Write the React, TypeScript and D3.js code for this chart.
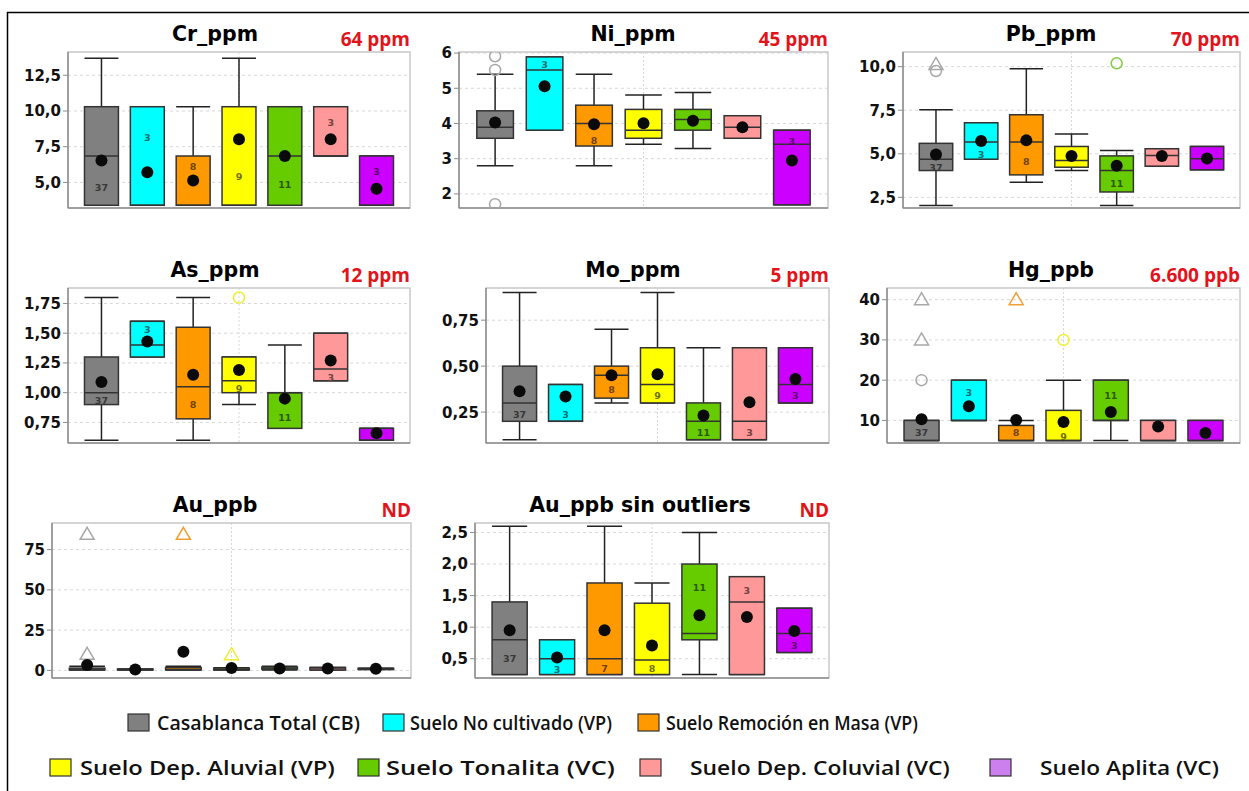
import React from "react";
import * as d3 from "d3";

// ---------- categories & colours ----------
const GROUPS = [
  "Casablanca Total (CB)",
  "Suelo No cultivado (VP)",
  "Suelo Remoción en Masa (VP)",
  "Suelo Dep. Aluvial (VP)",
  "Suelo Tonalita (VC)",
  "Suelo Dep. Coluvial (VC)",
  "Suelo Aplita (VC)",
];
const FILLS = ["#808080", "#00ffff", "#ff9900", "#ffff00", "#66cc00", "#ff9999", "#cc00ff"];
const LEGEND_FILLS = ["#808080", "#00ffff", "#ff9900", "#ffff00", "#66cc00", "#ff9999", "#cc80ee"];
const OUTLIER_COLORS = ["#a8a8a8", "#00cccc", "#f0a030", "#eeee30", "#80cc40", "#ff9999", "#cc66ff"];

// ---------- Cr_ppm ----------
const CR_LOW = [3.4, 3.4, 3.4, 3.4, 3.4, 6.85, 3.4];
const CR_Q1 = [3.4, 3.4, 3.4, 3.4, 3.4, 6.85, 3.4];
const CR_MED = [6.85, 3.4, 3.4, 3.4, 6.85, 6.85, 3.4];
const CR_Q3 = [10.3, 10.3, 6.85, 10.3, 10.3, 10.3, 6.85];
const CR_HIGH = [13.7, 10.3, 10.3, 13.7, 10.3, 10.3, 6.85];
const CR_MEAN = [6.53, 5.72, 5.14, 8.02, 6.85, 8.02, 4.56];
const CR_N = [37, 3, 8, 9, 11, 3, 3];
const CR_N_AT = [4.65, 8.13, 6.11, 5.37, 4.84, 9.2, 5.77];
const CR_OUT: [number, number, string][] = [];
const CR_TICKS = [5, 7.5, 10, 12.5];
const CR_TICK_LABELS = ["5,0", "7,5", "10,0", "12,5"];

// ---------- Ni_ppm ----------
const NI_LOW = [2.8, 3.81, 2.8, 3.41, 3.29, 3.58, 1.69];
const NI_Q1 = [3.58, 3.81, 3.36, 3.58, 3.81, 3.58, 1.69];
const NI_MED = [3.89, 5.52, 4.0, 3.81, 4.11, 3.89, 3.41];
const NI_Q3 = [4.36, 5.89, 4.52, 4.4, 4.4, 4.22, 3.81];
const NI_HIGH = [5.4, 5.89, 5.4, 4.81, 4.88, 4.22, 3.81];
const NI_MEAN = [4.03, 5.06, 3.98, 4.01, 4.08, 3.89, 2.95];
const NI_N = [37, 3, 8, 9, 11, 3, 3];
const NI_N_AT = [null, 5.67, 3.5, null, null, null, 3.48];
const NI_OUT: [number, number, string][] = [[0, 5.91, "c"], [0, 5.52, "c"], [0, 1.71, "c"]];
const NI_TICKS = [2, 3, 4, 5, 6];
const NI_TICK_LABELS = ["2", "3", "4", "5", "6"];

// ---------- Pb_ppm ----------
const PB_LOW = [2.04, 4.69, 3.37, 4.04, 2.04, 4.29, 4.08];
const PB_Q1 = [4.04, 4.69, 3.79, 4.23, 2.81, 4.29, 4.08];
const PB_MED = [4.69, 5.67, 5.67, 4.62, 4.04, 4.9, 4.71];
const PB_Q3 = [5.6, 6.78, 7.24, 5.42, 4.88, 5.29, 5.42];
const PB_HIGH = [7.53, 6.78, 9.88, 6.13, 5.19, 5.29, 5.42];
const PB_MEAN = [4.96, 5.73, 5.77, 4.87, 4.31, 4.87, 4.73];
const PB_N = [37, 3, 8, 9, 11, 3, 3];
const PB_N_AT = [4.23, 4.96, 4.53, null, 3.31, null, null];
const PB_OUT: [number, number, string][] = [[0, 10.13, "t"], [0, 9.75, "c"], [4, 10.19, "c"]];
const PB_TICKS = [2.5, 5, 7.5, 10];
const PB_TICK_LABELS = ["2,5", "5,0", "7,5", "10,0"];

// ---------- As_ppm ----------
const AS_LOW = [0.6, 1.3, 0.6, 0.9, 0.7, 1.1, 0.6];
const AS_Q1 = [0.9, 1.3, 0.78, 1.0, 0.7, 1.1, 0.6];
const AS_MED = [1.0, 1.4, 1.05, 1.1, 1.0, 1.2, 0.6];
const AS_Q3 = [1.3, 1.6, 1.55, 1.3, 1.0, 1.5, 0.7];
const AS_HIGH = [1.8, 1.6, 1.8, 1.3, 1.4, 1.5, 0.7];
const AS_MEAN = [1.09, 1.43, 1.15, 1.19, 0.95, 1.27, 0.66];
const AS_N = [37, 3, 8, 9, 11, 3, 3];
const AS_N_AT = [0.93, 1.53, 0.9, 1.03, 0.79, 1.13, null];
const AS_OUT: [number, number, string][] = [[3, 1.8, "c"]];
const AS_TICKS = [0.75, 1.0, 1.25, 1.5, 1.75];
const AS_TICK_LABELS = ["0,75", "1,00", "1,25", "1,50", "1,75"];

// ---------- Mo_ppm ----------
const MO_LOW = [0.1, 0.2, 0.3, 0.3, 0.1, 0.1, 0.3];
const MO_Q1 = [0.2, 0.2, 0.326, 0.3, 0.1, 0.1, 0.3];
const MO_MED = [0.3, 0.2, 0.45, 0.4, 0.2, 0.2, 0.4];
const MO_Q3 = [0.5, 0.4, 0.5, 0.6, 0.3, 0.6, 0.6];
const MO_HIGH = [0.9, 0.4, 0.7, 0.9, 0.6, 0.6, 0.6];
const MO_MEAN = [0.364, 0.335, 0.45, 0.456, 0.232, 0.303, 0.43];
const MO_N = [37, 3, 8, 9, 11, 3, 3];
const MO_N_AT = [0.236, 0.236, 0.37, 0.34, 0.14, 0.14, 0.34];
const MO_OUT: [number, number, string][] = [];
const MO_TICKS = [0.25, 0.5, 0.75];
const MO_TICK_LABELS = ["0,25", "0,50", "0,75"];

// ---------- Hg_ppb ----------
const HG_LOW = [5, 10, 5, 5, 5, 5, 5];
const HG_Q1 = [5, 10, 5, 5, 10, 5, 5];
const HG_MED = [5, 10, 5, 5, 10, 5, 5];
const HG_Q3 = [10, 20, 8.75, 12.5, 20, 10, 10];
const HG_HIGH = [10, 20, 10, 20, 20, 10, 10];
const HG_MEAN = [10.3, 13.5, 10.1, 9.6, 12.1, 8.5, 6.9];
const HG_N = [37, 3, 8, 9, 11, 3, 3];
const HG_N_AT = [6.9, 17, 6.9, 5.9, 16.2, null, null];
const HG_OUT: [number, number, string][] = [[0, 20, "c"], [0, 30, "t"], [0, 40, "t"], [2, 40, "t"], [3, 30, "c"]];
const HG_TICKS = [10, 20, 30, 40];
const HG_TICK_LABELS = ["10", "20", "30", "40"];

// ---------- Au_ppb ----------
const AU_LOW = [0.25, 0.25, 0.25, 0.25, 0.25, 0.25, 0.6];
const AU_Q1 = [0.25, 0.25, 0.25, 0.25, 0.8, 0.25, 0.6];
const AU_MED = [0.8, 0.5, 0.5, 0.48, 0.9, 1.4, 0.9];
const AU_Q3 = [1.4, 0.8, 1.7, 1.38, 2.0, 1.8, 1.3];
const AU_HIGH = [2.6, 0.8, 2.6, 1.7, 2.5, 1.8, 1.3];
const AU_MEAN = [3.3, 0.52, 11.5, 1.5, 1.19, 1.16, 0.94];
const AU_N = [37, 3, 8, 9, 11, 3, 3];
const AU_N_AT = [null, null, null, null, null, null, null];
const AU_OUT: [number, number, string][] = [[0, 84.5, "t"], [0, 10, "t"], [2, 84.5, "t"], [3, 9.7, "t"]];
const AU_TICKS = [0, 25, 50, 75];
const AU_TICK_LABELS = ["0", "25", "50", "75"];

// ---------- Au_ppb sin outliers ----------
const AUS_LOW = [0.25, 0.25, 0.25, 0.25, 0.25, 0.25, 0.6];
const AUS_Q1 = [0.25, 0.25, 0.25, 0.25, 0.8, 0.25, 0.6];
const AUS_MED = [0.8, 0.5, 0.5, 0.48, 0.9, 1.4, 0.9];
const AUS_Q3 = [1.4, 0.8, 1.7, 1.38, 2.0, 1.8, 1.3];
const AUS_HIGH = [2.6, 0.8, 2.6, 1.7, 2.5, 1.8, 1.3];
const AUS_MEAN = [0.95, 0.52, 0.95, 0.71, 1.19, 1.16, 0.94];
const AUS_N = [37, 3, 7, 8, 11, 3, 3];
const AUS_N_AT = [0.5, 0.33, 0.35, 0.35, 1.62, 1.58, 0.7];
const AUS_OUT: [number, number, string][] = [];
const AUS_TICKS = [0.5, 1.0, 1.5, 2.0, 2.5];
const AUS_TICK_LABELS = ["0,5", "1,0", "1,5", "2,0", "2,5"];

// ---------- panel titles & reference labels ----------
const TITLES = ["Cr_ppm", "Ni_ppm", "Pb_ppm", "As_ppm", "Mo_ppm", "Hg_ppb", "Au_ppb", "Au_ppb sin outliers"];
const REF_LABELS = ["64 ppm", "45 ppm", "70 ppm", "12 ppm", "5 ppm", "6.600 ppb", "ND", "ND"];
const Y_DOMAINS: [number, number][] = [
  [3.21, 14.13], [1.6, 6.03], [1.89, 10.84],
  [0.577, 1.88], [0.082, 0.925], [4.39, 42.9],
  [-4.74, 91.5], [0.195, 2.65],
];

// layout (pixel frames of each plot area)
const FRAMES = [
  { l: 68, r: 410, t: 52, b: 208, cx: 215 },
  { l: 459, r: 828, t: 52, b: 208, cx: 633 },
  { l: 903, r: 1240, t: 52, b: 208, cx: 1051 },
  { l: 68, r: 410, t: 288, b: 443, cx: 215 },
  { l: 486, r: 829, t: 288, b: 443, cx: 633 },
  { l: 887, r: 1240, t: 288, b: 443, cx: 1051 },
  { l: 52, r: 411, t: 523, b: 678, cx: 215 },
  { l: 475, r: 829, t: 523, b: 678, cx: 640 },
];

const STATS = [
  [CR_LOW, CR_Q1, CR_MED, CR_Q3, CR_HIGH, CR_MEAN, CR_N, CR_N_AT, CR_OUT, CR_TICKS, CR_TICK_LABELS],
  [NI_LOW, NI_Q1, NI_MED, NI_Q3, NI_HIGH, NI_MEAN, NI_N, NI_N_AT, NI_OUT, NI_TICKS, NI_TICK_LABELS],
  [PB_LOW, PB_Q1, PB_MED, PB_Q3, PB_HIGH, PB_MEAN, PB_N, PB_N_AT, PB_OUT, PB_TICKS, PB_TICK_LABELS],
  [AS_LOW, AS_Q1, AS_MED, AS_Q3, AS_HIGH, AS_MEAN, AS_N, AS_N_AT, AS_OUT, AS_TICKS, AS_TICK_LABELS],
  [MO_LOW, MO_Q1, MO_MED, MO_Q3, MO_HIGH, MO_MEAN, MO_N, MO_N_AT, MO_OUT, MO_TICKS, MO_TICK_LABELS],
  [HG_LOW, HG_Q1, HG_MED, HG_Q3, HG_HIGH, HG_MEAN, HG_N, HG_N_AT, HG_OUT, HG_TICKS, HG_TICK_LABELS],
  [AU_LOW, AU_Q1, AU_MED, AU_Q3, AU_HIGH, AU_MEAN, AU_N, AU_N_AT, AU_OUT, AU_TICKS, AU_TICK_LABELS],
  [AUS_LOW, AUS_Q1, AUS_MED, AUS_Q3, AUS_HIGH, AUS_MEAN, AUS_N, AUS_N_AT, AUS_OUT, AUS_TICKS, AUS_TICK_LABELS],
];

// legend layout (swatch x, row centre y, text x, text width)
const LEGEND_ITEMS = [
  { g: 0, x: 128, y: 723, tx: 157, w: 203 },
  { g: 1, x: 383, y: 723, tx: 410, w: 202 },
  { g: 2, x: 638, y: 723, tx: 666, w: 252 },
  { g: 3, x: 50, y: 768, tx: 80, w: 255 },
  { g: 4, x: 358, y: 768, tx: 386, w: 229 },
  { g: 5, x: 640, y: 768, tx: 690, w: 260 },
  { g: 6, x: 990, y: 768, tx: 1040, w: 179 },
];

const TICK_FONT = "'DejaVu Sans', Verdana, sans-serif";
const RED_FONT = "'Open Sans', sans-serif";
const LEGEND_SIZE = 19;

function measure(text: string, font: string): number {
  if (typeof document === "undefined") return text.length * 9;
  const c = document.createElement("canvas").getContext("2d");
  if (!c) return text.length * 9;
  c.font = font;
  return c.measureText(text).width;
}

function Panel({ idx }: { idx: number }) {
  const f = FRAMES[idx];
  const [low, q1, med, q3, high, mean, n, nAt, outs, ticks, tickLabels] = STATS[idx] as any[];
  const cats = GROUPS.map((_, i) => i);
  const x = d3.scalePoint<number>().domain(cats).range([f.l, f.r]).padding(0.73);
  const y = d3.scaleLinear().domain(Y_DOMAINS[idx]).range([f.b, f.t]);
  const bw = x.step() * 0.74;
  const tri = (cx: number, cy: number) => {
    const p = d3.path();
    p.moveTo(cx, cy - 7);
    p.lineTo(cx + 7, cy + 5);
    p.lineTo(cx - 7, cy + 5);
    p.closePath();
    return p.toString();
  };
  return (
    <g>
      <defs>
        <clipPath id={`clip${idx}`}>
          <rect x={f.l} y={f.t} width={f.r - f.l} height={f.b - f.t} />
        </clipPath>
      </defs>
      {(ticks as number[]).map((t, i) => (
        <line key={"g" + i} x1={f.l} x2={f.r} y1={y(t)} y2={y(t)} stroke="#d8d8d8" strokeDasharray="3,3" strokeWidth={1} />
      ))}
      <line x1={x(3)!} x2={x(3)!} y1={f.t} y2={f.b} stroke="#d8d8d8" strokeDasharray="2,2" strokeWidth={1} />
      <rect x={f.l} y={f.t} width={f.r - f.l} height={f.b - f.t} fill="none" stroke="#c8c8c8" strokeWidth={1.5} />
      <line x1={f.l} x2={f.l} y1={f.t} y2={f.b} stroke="#8c8c8c" strokeWidth={1.5} />
      <line x1={f.l} x2={f.r} y1={f.b} y2={f.b} stroke="#8c8c8c" strokeWidth={1.5} />
      {(ticks as number[]).map((t, i) => (
        <g key={"t" + i}>
          <line x1={f.l - 5} x2={f.l} y1={y(t)} y2={y(t)} stroke="#8c8c8c" strokeWidth={1} />
          <text x={f.l - 7} y={y(t)} dy="0.36em" textAnchor="end" fontFamily={TICK_FONT} fontWeight="bold" fontSize={15} fill="#111">
            {tickLabels[i]}
          </text>
        </g>
      ))}
      <text x={f.cx} y={f.t - 11} textAnchor="middle" fontFamily={TICK_FONT} fontWeight="bold" fontSize={20.5} fill="#000">
        {TITLES[idx]}
      </text>
      <text x={f.r} y={f.t - 6} textAnchor="end" fontFamily={RED_FONT} fontWeight="bold" fontSize={19} fill="#e3131b">
        {REF_LABELS[idx]}
      </text>
      <g clipPath={`url(#clip${idx})`}>
        {cats.map((i) => {
          const cx = x(i)!;
          const x0 = cx - bw / 2;
          const fill = FILLS[i];
          const labCol = d3.color(fill)!.darker(2.3).formatHex();
          return (
            <g key={"b" + i}>
              <line x1={cx} x2={cx} y1={y(q3[i])} y2={y(high[i])} stroke="#222" strokeWidth={1.5} />
              <line x1={cx} x2={cx} y1={y(q1[i])} y2={y(low[i])} stroke="#222" strokeWidth={1.5} />
              <line x1={x0} x2={x0 + bw} y1={y(high[i])} y2={y(high[i])} stroke="#222" strokeWidth={1.5} />
              <line x1={x0} x2={x0 + bw} y1={y(low[i])} y2={y(low[i])} stroke="#222" strokeWidth={1.5} />
              <rect x={x0} y={y(q3[i])} width={bw} height={Math.max(0, y(q1[i]) - y(q3[i]))} fill={fill} stroke="#333" strokeWidth={1.5} />
              <line x1={x0} x2={x0 + bw} y1={y(med[i])} y2={y(med[i])} stroke="#333" strokeWidth={1.5} />
              {nAt[i] != null && (
                <text x={cx} y={y(nAt[i])} dy="0.35em" textAnchor="middle" fontFamily={TICK_FONT} fontWeight="bold" fontSize={9.5} fill={labCol}>
                  {n[i]}
                </text>
              )}
            </g>
          );
        })}
        {(outs as [number, number, string][]).map(([g, v, s], k) =>
          s === "t" ? (
            <path key={"o" + k} d={tri(x(g)!, y(v))} fill="none" stroke={OUTLIER_COLORS[g]} strokeWidth={1.5} />
          ) : (
            <circle key={"o" + k} cx={x(g)!} cy={y(v)} r={5.5} fill="none" stroke={OUTLIER_COLORS[g]} strokeWidth={1.5} />
          )
        )}
        {cats.map((i) => (
          <circle key={"m" + i} cx={x(i)!} cy={y(mean[i])} r={6} fill="#0a0a0a" />
        ))}
      </g>
    </g>
  );
}

export default function App() {
  const legendFont = `600 ${LEGEND_SIZE}px 'Open Sans'`;
  return (
    <svg width={1249} height={791} style={{ position: "absolute", left: 0, top: 0, background: "#fff" }}>
      <rect x={0} y={0} width={1249} height={791} fill="#fff" />
      <rect x={7.5} y={12.5} width={1400} height={900} fill="none" stroke="#000" strokeWidth={1.5} />
      {FRAMES.map((_, i) => (
        <Panel key={i} idx={i} />
      ))}
      {LEGEND_ITEMS.map((it) => {
        const natural = measure(GROUPS[it.g], legendFont);
        const sx = natural > 0 ? it.w / natural : 1;
        return (
          <g key={it.g}>
            <rect x={it.x} y={it.y - 9} width={21} height={17} fill={LEGEND_FILLS[it.g]} stroke="#333" strokeWidth={1.2} />
            <g transform={`translate(${it.tx},${it.y}) scale(${sx},1)`}>
              <text x={0} y={0} dy="0.36em" fontFamily="'Open Sans', sans-serif" fontWeight={600} fontSize={LEGEND_SIZE} fill="#111">
                {GROUPS[it.g]}
              </text>
            </g>
          </g>
        );
      })}
    </svg>
  );
}
